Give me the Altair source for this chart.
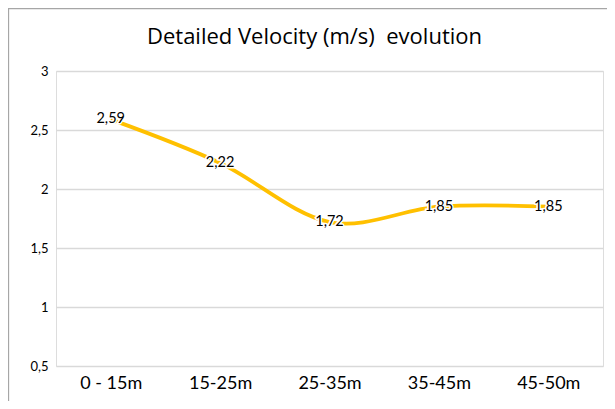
import altair as alt
import pandas as pd

categories = ["0 - 15m", "15-25m", "25-35m", "35-45m", "45-50m"]
velocity = [2.59, 2.22, 1.72, 1.85, 1.85]
y_ticks = [0.5, 1, 1.5, 2, 2.5, 3]
title_text = "Detailed Velocity (m/s)\u00a0 evolution"

df = pd.DataFrame({
    "segment": categories,
    "velocity": velocity,
    "label": [f"{v:.2f}".replace(".", ",") for v in velocity],
})

W, H = 547, 295
FONT = "Lato"

x = alt.X("segment:N", sort=categories, title=None,
          scale=alt.Scale(paddingInner=0, paddingOuter=0.5),
          axis=alt.Axis(labelAngle=0, labelFontSize=18, labelColor="#000000",
                        labelFont=FONT, labelPadding=8, ticks=False, domain=False))
y = alt.Y("velocity:Q", title=None,
          scale=alt.Scale(domain=[0.5, 3], nice=False, zero=False),
          axis=alt.Axis(values=y_ticks, labelExpr="replace(format(datum.value, '~g'), '.', ',')",
                        labelFontSize=13, labelColor="#000000", labelFont=FONT,
                        labelPadding=8, ticks=False, domain=False,
                        gridColor="#d9d9d9", gridWidth=1.3))

line = alt.Chart(df).mark_line(color="#FFC000", strokeWidth=3.8,
                               interpolate="cardinal").encode(x=x, y=y)

halo = alt.Chart(df).mark_text(fontSize=14.5, font=FONT, stroke="white",
                               strokeWidth=3, fill="white").encode(
    x=alt.X("segment:N", sort=categories), y="velocity:Q", text="label:N")
text = alt.Chart(df).mark_text(fontSize=14.5, font=FONT, color="#000000").encode(
    x=alt.X("segment:N", sort=categories), y="velocity:Q", text="label:N")

one = pd.DataFrame({"t": [title_text]})
border = alt.Chart(one).mark_rect(
    fill=None, stroke="#a6a6a6", strokeWidth=1.3).encode(
    x=alt.value(-47.5), x2=alt.value(W + 40),
    y=alt.value(-62.5), y2=alt.value(H + 80))

title = alt.Chart(one).mark_text(fontSize=22, font="Open Sans", color="#000000",
                                 baseline="alphabetic", align="center").encode(
    x=alt.value(W / 2 - 15), y=alt.value(-27), text="t:N")

chart = alt.layer(border, line, halo, text, title).properties(
    width=W, height=H,
    padding={"left": 48, "top": 63, "right": 4, "bottom": 35},
    autosize=alt.AutoSizeParams(type="none"),
).configure_view(stroke=None).configure(background="white")

chart.save("out.html", embed_options={"renderer": "svg", "actions": False})
